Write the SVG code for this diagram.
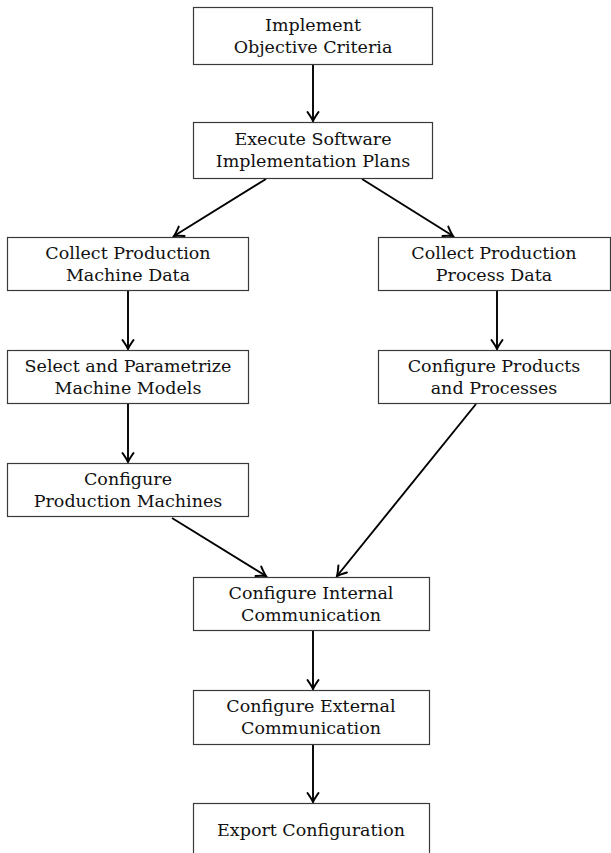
<svg xmlns="http://www.w3.org/2000/svg" width="611" height="853" viewBox="0 0 611 853">
  <style>
    .box rect { fill: #ffffff; stroke: #3a3a3a; stroke-width: 1.2; }
    .box text { font-family: "DejaVu Serif", "Liberation Serif", serif; font-size: 17.5px; fill: #111111; text-anchor: middle; }
    .edge { fill: none; stroke: #000000; stroke-width: 1.9; marker-end: url(#arrow); }
  </style>
  <defs>
    <marker id="arrow" markerUnits="userSpaceOnUse" markerWidth="14" markerHeight="14" viewBox="-10 -7 12 14" refX="0" refY="0" orient="auto">
      <path d="M -9,-5.5 Q -3,-1.3 0,0 Q -3,1.3 -9,5.5" fill="none" stroke="#000000" stroke-width="2" stroke-linecap="round"/>
    </marker>
  </defs>

  <!-- connectors -->
  <g id="connectors">
    <line class="edge" x1="313" y1="65" x2="313" y2="121"/>
    <line class="edge" x1="266" y1="179" x2="174" y2="236"/>
    <line class="edge" x1="362" y1="179" x2="453" y2="236"/>
    <line class="edge" x1="128" y1="291" x2="128" y2="349"/>
    <line class="edge" x1="497" y1="291" x2="497" y2="349"/>
    <line class="edge" x1="128" y1="404" x2="128" y2="462"/>
    <line class="edge" x1="172" y1="518" x2="266" y2="576"/>
    <line class="edge" x1="476" y1="404" x2="337" y2="576"/>
    <line class="edge" x1="313" y1="631" x2="313" y2="689"/>
    <line class="edge" x1="313" y1="745" x2="313" y2="802"/>
  </g>

  <!-- nodes -->
  <g id="implement-objective-criteria" class="box">
    <rect x="193.5" y="7.5" width="239" height="57"/>
    <text x="313" y="31">Implement</text>
    <text x="313" y="53">Objective Criteria</text>
  </g>
  <g id="execute-software-plans" class="box">
    <rect x="193.5" y="122.5" width="239" height="56"/>
    <text x="313" y="145">Execute Software</text>
    <text x="313" y="167">Implementation Plans</text>
  </g>
  <g id="collect-machine-data" class="box">
    <rect x="7.5" y="237.5" width="241" height="53"/>
    <text x="128" y="259">Collect Production</text>
    <text x="128" y="281">Machine Data</text>
  </g>
  <g id="collect-process-data" class="box">
    <rect x="378.5" y="237.5" width="232" height="53"/>
    <text x="494" y="259">Collect Production</text>
    <text x="494" y="281">Process Data</text>
  </g>
  <g id="select-machine-models" class="box">
    <rect x="7.5" y="350.5" width="241" height="53"/>
    <text x="128" y="372">Select and Parametrize</text>
    <text x="128" y="394">Machine Models</text>
  </g>
  <g id="configure-products-processes" class="box">
    <rect x="378.5" y="350.5" width="232" height="53"/>
    <text x="494" y="372">Configure Products</text>
    <text x="494" y="394">and Processes</text>
  </g>
  <g id="configure-production-machines" class="box">
    <rect x="7.5" y="463.5" width="241" height="53"/>
    <text x="128" y="485">Configure</text>
    <text x="128" y="507">Production Machines</text>
  </g>
  <g id="configure-internal-communication" class="box">
    <rect x="193.5" y="577.5" width="236" height="53"/>
    <text x="311" y="599">Configure Internal</text>
    <text x="311" y="621">Communication</text>
  </g>
  <g id="configure-external-communication" class="box">
    <rect x="193.5" y="690.5" width="236" height="54"/>
    <text x="311" y="712">Configure External</text>
    <text x="311" y="734">Communication</text>
  </g>
  <g id="export-configuration" class="box">
    <rect x="193.5" y="803.5" width="236" height="56"/>
    <text x="311" y="836">Export Configuration</text>
  </g>
</svg>
